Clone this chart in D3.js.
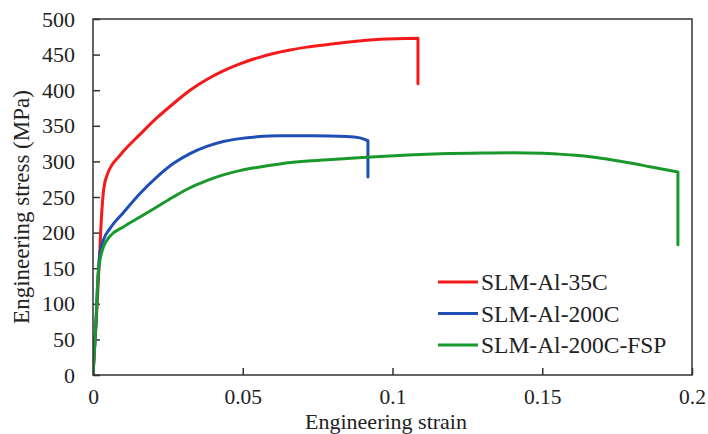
<!DOCTYPE html>
<html><head><meta charset="utf-8">
<script src="https://cdn.jsdelivr.net/npm/d3@7"></script>
<style>body{margin:0;background:#fff}svg text{font-family:"Liberation Serif","Times New Roman",serif;fill:#222}</style>
</head><body><svg id="c" width="708" height="434"></svg>
<script>
const seriesNames = ["SLM-Al-35C","SLM-Al-200C","SLM-Al-200C-FSP"];
const seriesColors = ["#f41a1a","#1f4fb4","#19982c"];
const strain35C = [0,0.001,0.002,0.0028,0.0036,0.0048,0.0065,0.0085,0.0101,0.0157,0.0213,0.0268,0.0324,0.038,0.0435,0.049,0.0547,0.0602,0.0658,0.0714,0.079,0.0847,0.0958,0.1085,0.1085];
const stress35C = [0,70,150,220,262,282,296,306,314,338,361,381,400,415,427,437,445,451.5,456.5,460.5,464.5,467.5,471.5,473,409];
const strain200C = [0,0.001,0.0017,0.0023,0.0035,0.0057,0.0101,0.0157,0.0213,0.0268,0.0324,0.038,0.0435,0.049,0.0547,0.0624,0.0736,0.0847,0.0891,0.0918,0.0918];
const stress200C = [0,75,140,171,190,206,228,255,278,297,311,321,328,332,334.5,336,336,335,333,329,278];
const strainFSP = [0,0.001,0.0017,0.0025,0.0035,0.0057,0.0101,0.0157,0.0213,0.0268,0.0324,0.038,0.0435,0.049,0.0547,0.0624,0.0736,0.0847,0.0958,0.107,0.116,0.13,0.14,0.15,0.155,0.16,0.168,0.177,0.186,0.1953,0.1953];
const stressFSP = [0,75,140,165,180,195,208,222,236,250,263,273,281,287,291.5,296.5,301,304,307,309.3,310.6,311.7,312,311.3,310.3,309,305.5,299.5,292.5,285,183];
const xTicks = [0,0.05,0.1,0.15,0.2];
const xTickLabels = ["0","0.05","0.1","0.15","0.2"];
const yTicks = [0,50,100,150,200,250,300,350,400,450,500];

const svg = d3.select("#c");
const L=93,R=692,T=19,B=375;
const x = d3.scaleLinear().domain([0,0.2]).range([L,R]);
const y = d3.scaleLinear().domain([0,500]).range([B,T]);

const xAxis = svg.append("g").attr("transform",`translate(0,${B})`)
  .call(d3.axisBottom(x).tickValues(xTicks).tickFormat((d,i)=>xTickLabels[i]).tickSizeInner(-7).tickSizeOuter(0).tickPadding(14));
const yAxis = svg.append("g").attr("transform",`translate(${L},0)`)
  .call(d3.axisLeft(y).tickValues(yTicks).tickFormat(d3.format("d")).tickSizeInner(-7).tickSizeOuter(0).tickPadding(18));
[xAxis,yAxis].forEach(g=>{
  g.select(".domain").remove();
  g.selectAll(".tick line").attr("stroke","#333").attr("stroke-width",1.5);
  g.selectAll(".tick text").attr("font-size",22).style("font-family","Liberation Serif").attr("fill","#222");
});
xAxis.selectAll(".tick text").attr("font-size",21.5).attr("dy","0.71em");

const datasets = [[strain35C,stress35C],[strain200C,stress200C],[strainFSP,stressFSP]];
const line = d3.line().x(d=>x(d[0])).y(d=>y(d[1])).curve(d3.curveMonotoneX);
svg.append("clipPath").attr("id","cp").append("rect").attr("x",L).attr("y",T).attr("width",R-L).attr("height",B-T);
datasets.forEach((ds,i)=>{
  const pts = ds[0].map((v,j)=>[v,ds[1][j]]);
  const last = pts[pts.length-1];
  const d = line(pts.slice(0,-1)) + "L" + x(last[0]) + "," + y(last[1]);
  svg.append("path").attr("d",d).attr("fill","none").attr("stroke",seriesColors[i])
    .attr("stroke-width",3).attr("stroke-linejoin","round").attr("stroke-linecap","round").attr("clip-path","url(#cp)");
});

svg.append("rect").attr("x",L).attr("y",T).attr("width",R-L).attr("height",B-T)
  .attr("fill","none").attr("stroke","#333").attr("stroke-width",1.5);

const lg = svg.append("g");
seriesNames.forEach((n,i)=>{
  const yy = 282 + i*31.5;
  lg.append("line").attr("x1",438).attr("x2",478).attr("y1",yy).attr("y2",yy).attr("stroke",seriesColors[i]).attr("stroke-width",3);
  lg.append("text").attr("x",481).attr("y",yy).attr("dy","0.35em").attr("font-size",23.5).text(n);
});

svg.append("text").attr("x",386).attr("y",429).attr("text-anchor","middle").attr("font-size",22).text("Engineering strain");
svg.append("text").attr("transform",`translate(29,207) rotate(-90)`).attr("text-anchor","middle").attr("font-size",23).text("Engineering stress (MPa)");
</script></body></html>
